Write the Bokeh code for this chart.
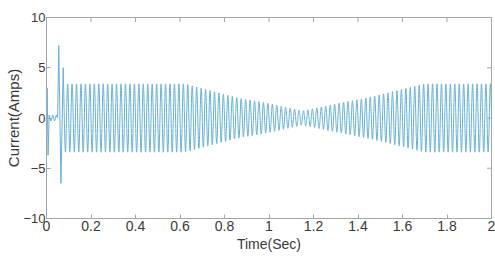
import numpy as np
from bokeh.plotting import figure
from bokeh.models import FixedTicker, Range1d
from bokeh.embed import file_html
from bokeh.resources import INLINE

# Start-up transient (time in s, current in A)
t_transient = [0.0, 0.003, 0.007, 0.012, 0.020, 0.028, 0.036, 0.044, 0.050, 0.055, 0.065, 0.075]
i_transient = [0.0, 3.0, -3.7, 0.3, -0.3, 0.3, -0.3, 0.3, 0.0, 7.2, -6.5, 5.0]

# Envelope (peak amplitude) of the 50 Hz steady oscillation
t_envelope = [0.08, 0.62, 0.86, 1.00, 1.15, 1.30, 1.46, 1.70, 2.00]
a_envelope = [3.4, 3.4, 2.0, 1.45, 0.7, 1.4, 2.1, 3.4, 3.4]
f_carrier = 50.0   # Hz
t_zero = 0.08      # zero crossing where the steady wave starts

x_ticks = [0, 0.2, 0.4, 0.6, 0.8, 1.0, 1.2, 1.4, 1.6, 1.8, 2.0]
x_labels = ["0", "0.2", "0.4", "0.6", "0.8", "1", "1.2", "1.4", "1.6", "1.8", "2"]
y_ticks = [-10, -5, 0, 5, 10]

# steady oscillation drawn from the envelope and carrier frequency
t_wave = np.arange(t_envelope[0], t_envelope[-1] + 1e-9, 0.0005)
i_wave = -np.interp(t_wave, t_envelope, a_envelope) * np.sin(2 * np.pi * f_carrier * (t_wave - t_zero))

t_all = np.concatenate([t_transient, t_wave])
i_all = np.concatenate([i_transient, i_wave])

FONT = "Liberation Sans"
AX = "#a6a6a6"
TXT = "#3a3a3a"

p = figure(width=495, height=264, output_backend="svg", toolbar_location=None,
           x_range=Range1d(0, 2), y_range=Range1d(-10, 10))
p.min_border_left = 46
p.min_border_right = 4
p.min_border_top = 17
p.min_border_bottom = 46
p.background_fill_color = "white"
p.border_fill_color = "white"
p.outline_line_color = AX
p.xgrid.visible = False
p.ygrid.visible = False

p.line(t_all, i_all, line_color="#66b0d9", line_width=1)

# inward ticks on the top and right edges of the box
p.scatter(x=x_ticks, y=[y_ticks[-1]] * len(x_ticks), marker="dash", angle=np.pi / 2,
          size=9, line_color=AX, line_width=1)
p.scatter(x=[x_ticks[-1]] * len(y_ticks), y=y_ticks, marker="dash",
          size=9, line_color=AX, line_width=1)

p.xaxis.ticker = FixedTicker(ticks=x_ticks)
p.xaxis.major_label_overrides = {v: s for v, s in zip(x_ticks, x_labels)}
p.yaxis.ticker = FixedTicker(ticks=y_ticks)
p.xaxis.axis_label = "Time(Sec)"
p.yaxis.axis_label = "Current(Amps)"

for ax in (p.xaxis[0], p.yaxis[0]):
    ax.axis_line_color = AX
    ax.major_tick_line_color = AX
    ax.major_tick_in = 4
    ax.major_tick_out = 0
    ax.minor_tick_line_color = None
    ax.major_label_text_font = FONT
    ax.major_label_text_font_size = "14px"
    ax.major_label_text_color = TXT
    ax.axis_label_text_font = FONT
    ax.axis_label_text_font_style = "normal"
    ax.axis_label_text_color = TXT
    ax.major_label_standoff = 2
    ax.axis_label_standoff = 2
p.yaxis.major_label_text_font_size = "13px"
p.yaxis.major_label_standoff = 1
p.yaxis.axis_label_standoff = -2
p.xaxis.axis_label_text_font_size = "14px"
p.yaxis.axis_label_text_font_size = "15px"

open("out.html", "w").write(file_html(p, INLINE))
